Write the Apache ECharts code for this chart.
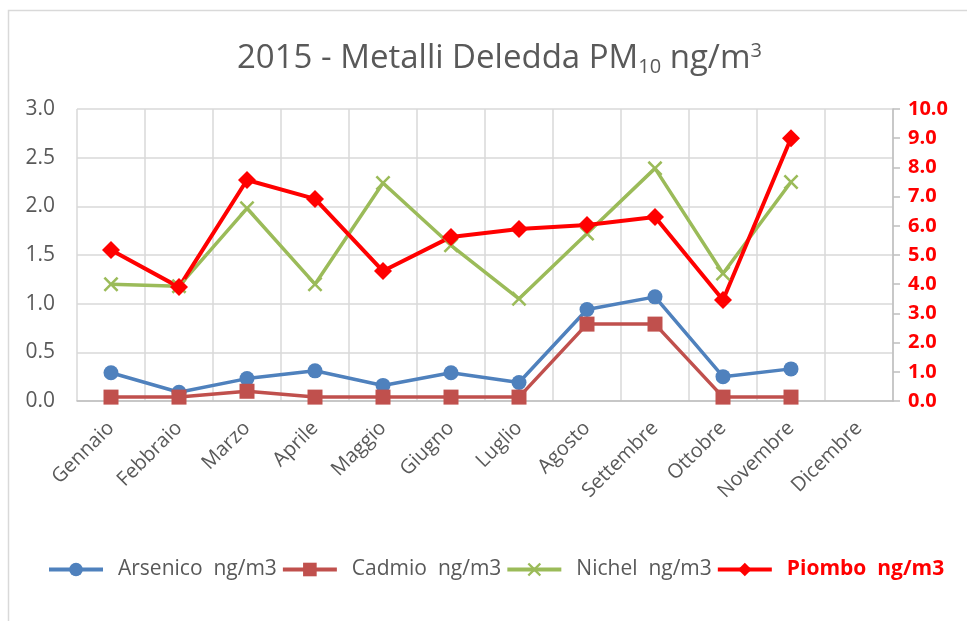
<!DOCTYPE html>
<html><head><meta charset="utf-8">
<script src="https://cdn.jsdelivr.net/npm/echarts@6/dist/echarts.min.js"></script>
<style>html,body{margin:0;padding:0;background:#fff}#c{width:967px;height:621px}</style>
</head><body><div id="c"></div>
<script>
const months = ['Gennaio','Febbraio','Marzo','Aprile','Maggio','Giugno','Luglio','Agosto','Settembre','Ottobre','Novembre','Dicembre'];
const arsenico = [0.29,0.09,0.23,0.31,0.16,0.29,0.19,0.94,1.07,0.25,0.33,null];
const cadmio   = [0.04,0.04,0.10,0.04,0.04,0.04,0.04,0.79,0.79,0.04,0.04,null];
const nichel   = [1.20,1.18,1.98,1.20,2.24,1.60,1.05,1.72,2.39,1.31,2.25,null];
const piombo   = [5.17,3.90,7.57,6.92,4.45,5.62,5.89,6.03,6.30,3.46,9.00,null];
const leftTicks = {min:0, max:3, interval:0.5};
const rightTicks = {min:0, max:10, interval:1};

const FONT = '"Open Sans", "Noto Sans", sans-serif';
const GREY = '#595959';
const xPath = 'path://M0,1.2L1.2,0L5,3.8L8.8,0L10,1.2L6.2,5L10,8.8L8.8,10L5,6.2L1.2,10L0,8.8L3.8,5Z';

const chart = echarts.init(document.getElementById('c'));
chart.setOption({
  animation:false,
  backgroundColor:'#fff',
  graphic:[{type:'rect', shape:{x:8.5,y:10.5,width:970,height:620}, style:{fill:'none', stroke:'#d9d9d9', lineWidth:1.5}, silent:true}],
  title:{
    text:'2015 - Metalli Deledda PM{sub|10} ng/m{sup|3}',
    left:232, top:36,
    textStyle:{fontFamily:FONT, fontSize:33, fontWeight:'normal', color:GREY,
      rich:{
        sub:{fontFamily:FONT, fontSize:20, color:GREY, verticalAlign:'bottom', padding:[16,0,0,0]},
        sup:{fontFamily:FONT, fontSize:20, color:GREY, verticalAlign:'top', padding:[0,0,14,0]}
      }}
  },
  grid:{left:77, right:74, top:109, bottom:220, containLabel:false},
  legend:{
    left:42, top:554, itemWidth:54, itemHeight:17, itemGap:4,
    lineStyle:{width:4},
    textStyle:{fontFamily:FONT, fontSize:21, color:GREY, padding:[0,0,0,10]},
    data:[
      {name:'Arsenico  ng/m3'},
      {name:'Cadmio  ng/m3'},
      {name:'Nichel  ng/m3'},
      {name:'Piombo  ng/m3', textStyle:{color:'#ff0000', fontWeight:'bold', fontSize:21}}
    ]
  },
  xAxis:{
    type:'category', data:months, boundaryGap:true,
    axisLine:{lineStyle:{color:'#bfbfbf', width:1.5}},
    axisTick:{show:false},
    splitLine:{show:true, lineStyle:{color:'#d9d9d9', width:1.5}},
    axisLabel:{rotate:45, interval:0, margin:24, fontFamily:FONT, fontSize:20, color:GREY}
  },
  yAxis:[
    {type:'value', min:leftTicks.min, max:leftTicks.max, interval:leftTicks.interval, position:'left',
     axisLine:{show:false}, axisTick:{show:false},
     splitLine:{lineStyle:{color:'#d9d9d9', width:1.5}},
     axisLabel:{formatter:v=>v.toFixed(1), fontFamily:FONT, fontSize:21, color:GREY, margin:22}},
    {type:'value', min:rightTicks.min, max:rightTicks.max, interval:rightTicks.interval, position:'right',
     axisLine:{show:true, lineStyle:{color:'#bfbfbf', width:1.5}},
     axisTick:{show:true, inside:false, length:7, lineStyle:{color:'#bfbfbf', width:1.5}},
     splitLine:{show:false},
     axisLabel:{formatter:v=>v.toFixed(1), fontFamily:FONT, fontSize:20, fontWeight:'bold', color:'#ff0000', margin:15}}
  ],
  series:[
    {name:'Arsenico  ng/m3', type:'line', yAxisIndex:0, data:arsenico, symbol:'circle', symbolSize:15,
     lineStyle:{color:'#4f81bd', width:3.5}, itemStyle:{color:'#4f81bd'}},
    {name:'Cadmio  ng/m3', type:'line', yAxisIndex:0, data:cadmio, symbol:'rect', symbolSize:15,
     lineStyle:{color:'#c0504d', width:3.5}, itemStyle:{color:'#c0504d'}},
    {name:'Nichel  ng/m3', type:'line', yAxisIndex:0, data:nichel, symbol:xPath, symbolSize:15,
     lineStyle:{color:'#9bbb59', width:3.5}, itemStyle:{color:'#9bbb59'}},
    {name:'Piombo  ng/m3', type:'line', yAxisIndex:1, data:piombo, symbol:'diamond', symbolSize:18,
     lineStyle:{color:'#ff0000', width:4}, itemStyle:{color:'#ff0000'}}
  ]
});
</script></body></html>
